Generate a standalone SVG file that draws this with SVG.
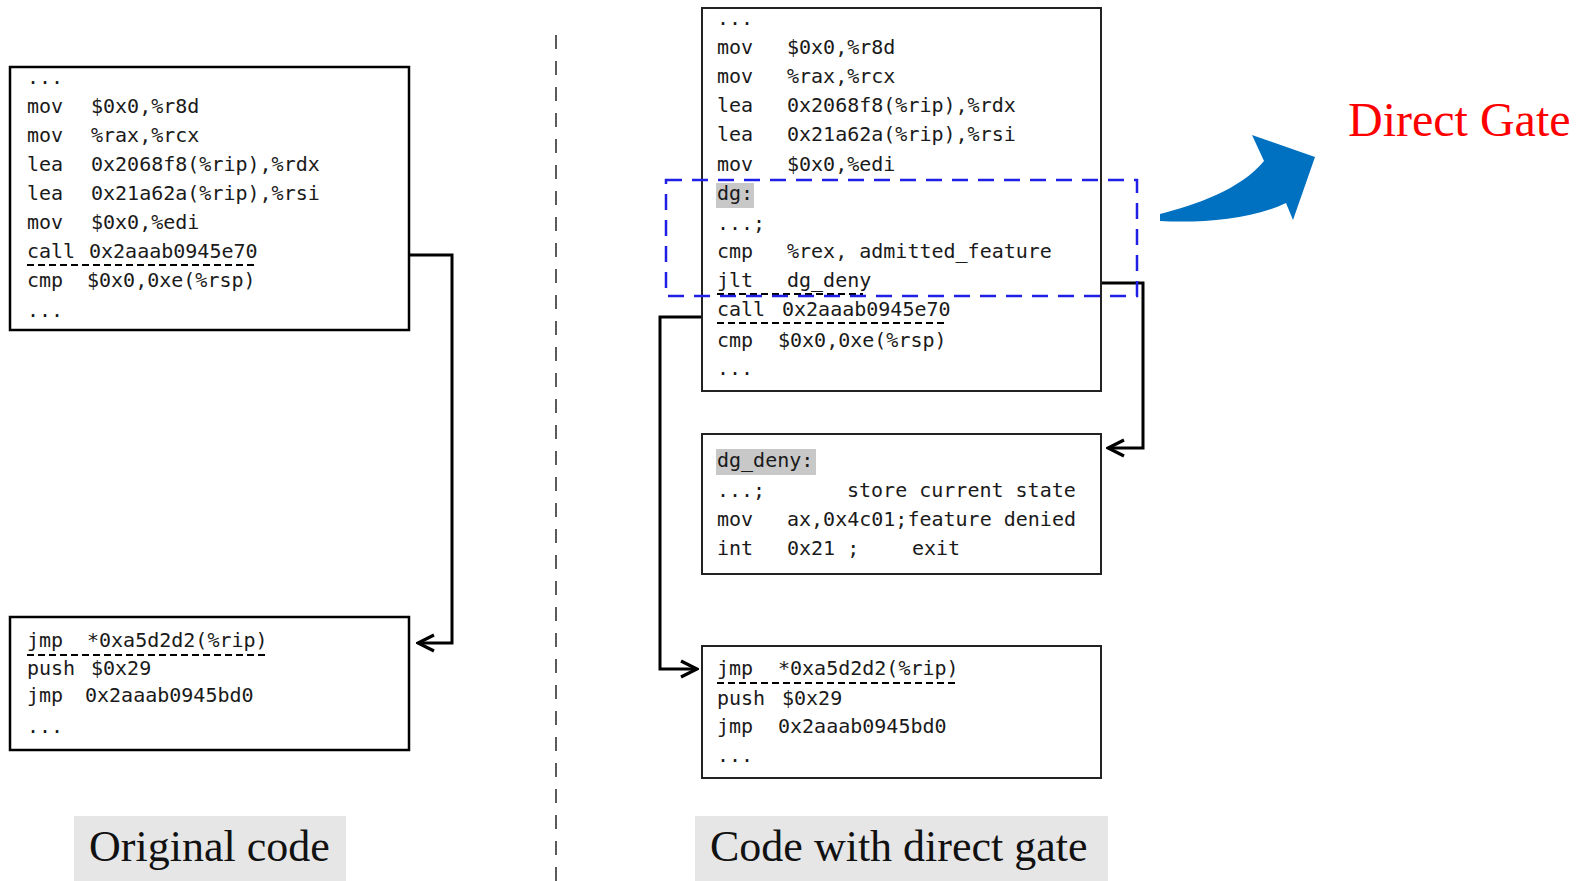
<svg xmlns="http://www.w3.org/2000/svg" width="1585" height="881" viewBox="0 0 1585 881">
<style>
.code{font-family:"DejaVu Sans Mono","Liberation Mono",monospace;font-size:20px;fill:#1a1a1a}
.box{fill:#fff;stroke:#000;stroke-width:2.5}
.boxr{fill:#fff;stroke:#222;stroke-width:2}
.ul{stroke:#000;stroke-width:2;stroke-dasharray:7 4;fill:none}
.conn{fill:none;stroke:#000;stroke-width:3}
.hl{fill:#c8c8c8}
.cap{font-family:"Liberation Serif",serif;font-size:44px;fill:#111}
.capbg{fill:#e6e6e6}
</style>
<defs>
<marker id="arr" markerUnits="userSpaceOnUse" viewBox="0 0 22 22" refX="20" refY="11" markerWidth="22" markerHeight="22" orient="auto">
<path d="M4,3 L20,11 L4,19" fill="none" stroke="#000" stroke-width="3.2"/>
</marker>
</defs>
<line x1="556" y1="35" x2="556" y2="881" stroke="#333" stroke-width="1.6" stroke-dasharray="14 12"/>
<g id="connectors">
<path class="conn" d="M409,255 H452 V643 H418" marker-end="url(#arr)"/>
<path class="conn" d="M1101,283 H1143 V448 H1108" marker-end="url(#arr)"/>
<path class="conn" d="M702,317 H660 V669 H697" marker-end="url(#arr)"/>
</g>
<g id="orig-main">
<rect class="box" x="10" y="67" width="399" height="263"/>
<text class="code" x="27" y="84">...</text>
<text class="code" x="27" y="113">mov<tspan x="91">$0x0,%r8d</tspan></text>
<text class="code" x="27" y="142">mov<tspan x="91">%rax,%rcx</tspan></text>
<text class="code" x="27" y="171">lea<tspan x="91">0x2068f8(%rip),%rdx</tspan></text>
<text class="code" x="27" y="200">lea<tspan x="91">0x21a62a(%rip),%rsi</tspan></text>
<text class="code" x="27" y="229">mov<tspan x="91">$0x0,%edi</tspan></text>
<text class="code" x="27" y="258">call<tspan x="89">0x2aaab0945e70</tspan></text>
<line class="ul" x1="27" y1="265" x2="256" y2="265"/>
<text class="code" x="27" y="287">cmp<tspan x="87">$0x0,0xe(%rsp)</tspan></text>
<text class="code" x="27" y="317">...</text>
</g>
<g id="orig-plt">
<rect class="box" x="10" y="617" width="399" height="133"/>
<text class="code" x="27" y="647">jmp<tspan x="87">*0xa5d2d2(%rip)</tspan></text>
<line class="ul" x1="27" y1="655" x2="268" y2="655" stroke="#444"/>
<text class="code" x="27" y="675">push<tspan x="91">$0x29</tspan></text>
<text class="code" x="27" y="702">jmp<tspan x="85">0x2aaab0945bd0</tspan></text>
<text class="code" x="27" y="733">...</text>
</g>
<g id="gate-main">
<rect class="boxr" x="702" y="8" width="399" height="383"/>
<text class="code" x="717" y="25">...</text>
<text class="code" x="717" y="54">mov<tspan x="787">$0x0,%r8d</tspan></text>
<text class="code" x="717" y="83">mov<tspan x="787">%rax,%rcx</tspan></text>
<text class="code" x="717" y="112">lea<tspan x="787">0x2068f8(%rip),%rdx</tspan></text>
<text class="code" x="717" y="141">lea<tspan x="787">0x21a62a(%rip),%rsi</tspan></text>
<text class="code" x="717" y="171">mov<tspan x="787">$0x0,%edi</tspan></text>
<rect class="hl" x="716" y="183" width="38" height="25"/>
<text class="code" x="717" y="200">dg:</text>
<text class="code" x="717" y="230">...;</text>
<text class="code" x="717" y="258">cmp<tspan x="787">%rex, admitted_feature</tspan></text>
<text class="code" x="717" y="287">jlt<tspan x="787">dg_deny</tspan></text>
<line class="ul" x1="717" y1="294" x2="863" y2="294" stroke="#444" stroke-width="1.5"/>
<text class="code" x="717" y="316">call<tspan x="782">0x2aaab0945e70</tspan></text>
<line class="ul" x1="717" y1="323" x2="945" y2="323" stroke="#444" stroke-width="1.5"/>
<text class="code" x="717" y="347">cmp<tspan x="778">$0x0,0xe(%rsp)</tspan></text>
<text class="code" x="717" y="375">...</text>
</g>
<g id="gate-box">
<rect x="666" y="180" width="471" height="116" fill="none" stroke="#1f1fe6" stroke-width="2.5" stroke-dasharray="16 10"/>
</g>
<g id="dg-deny">
<rect class="boxr" x="702" y="434" width="399" height="140"/>
<rect class="hl" x="716" y="449" width="100" height="26"/>
<text class="code" x="717" y="467">dg_deny:</text>
<text class="code" x="717" y="497">...;<tspan x="847">store current state</tspan></text>
<text class="code" x="717" y="526">mov<tspan x="787">ax,0x4c01;feature denied</tspan></text>
<text class="code" x="717" y="555">int<tspan x="787">0x21 ;</tspan><tspan x="912">exit</tspan></text>
</g>
<g id="gate-plt">
<rect class="boxr" x="702" y="646" width="399" height="132"/>
<text class="code" x="717" y="675">jmp<tspan x="778">*0xa5d2d2(%rip)</tspan></text>
<line class="ul" x1="717" y1="683" x2="959" y2="683"/>
<text class="code" x="717" y="705">push<tspan x="782">$0x29</tspan></text>
<text class="code" x="717" y="733">jmp<tspan x="778">0x2aaab0945bd0</tspan></text>
<text class="code" x="717" y="762">...</text>
</g>
<g id="direct-gate">
<path d="M1160,214 C1195,205 1240,190 1264,161 L1252,135 L1315,157 L1293,220 L1286,203 C1250,220 1200,223 1160,221 Z" fill="#0070c0"/>
<text x="1348" y="136" font-family="Liberation Serif, serif" font-size="48" fill="#ff0000">Direct Gate</text>
</g>
<g id="label-orig">
<rect class="capbg" x="74" y="816" width="272" height="65"/>
<text class="cap" x="89" y="861">Original code</text>
</g>
<g id="label-gate">
<rect class="capbg" x="695" y="816" width="413" height="65"/>
<text class="cap" x="710" y="861">Code with direct gate</text>
</g>
</svg>
